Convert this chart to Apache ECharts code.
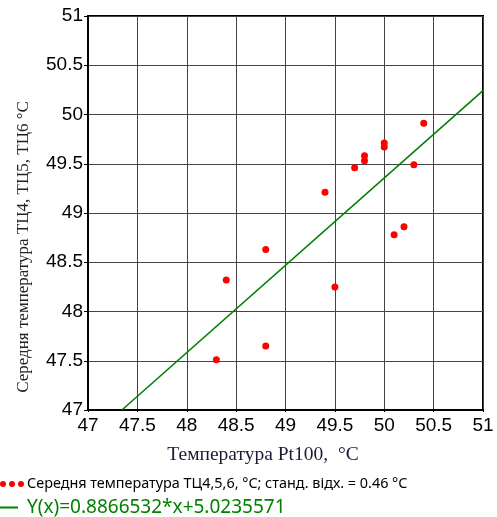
<!DOCTYPE html>
<html>
<head>
<meta charset="utf-8">
<script src="https://cdn.jsdelivr.net/npm/echarts@6/dist/echarts.min.js"></script>
<style>
  html, body { margin: 0; padding: 0; background: #fff; }
  #chart { width: 497px; height: 517px; }
</style>
</head>
<body>
<div id="chart"></div>
<script>
// точки: температура Pt100 та середня температура ТЦ4,5,6
const ptTemp = [48.3, 48.4, 48.8, 48.8, 49.4, 49.5, 49.7, 49.8, 49.8, 50.0, 50.0, 50.1, 50.2, 50.3, 50.4]
const tcTemp = [47.51, 48.32, 48.63, 47.65, 49.21, 48.25, 49.46, 49.58, 49.53, 49.71, 49.67, 48.78, 48.86, 49.49, 49.91]
// кінці лінії регресії Y(x)=0.8866532*x+5.0235571
const fitX = [47.343, 51]
const fitY = [47, 50.242]
const axisTicks = [47, 47.5, 48, 48.5, 49, 49.5, 50, 50.5, 51]

const scatterName = 'Середня температура ТЦ4,5,6, °C; станд. відх. = 0.46 °C'
const fitName = 'Y(x)=0.8866532*x+5.0235571'

let myChart = echarts.init(document.getElementById('chart'))

const axisCommon = {
  type: 'value',
  min: axisTicks[0],
  max: axisTicks[axisTicks.length - 1],
  interval: 0.5,
  axisLine: { show: true, lineStyle: { color: '#000', width: 2 } },
  splitLine: { show: true, lineStyle: { color: '#444', width: 1 } },
  axisLabel: {
    color: '#000',
    fontSize: 19,
    fontFamily: 'Liberation Sans, Arial, sans-serif',
    showMinLabel: true,
    showMaxLabel: true
  }
}

const option = {
  animation: false,
  backgroundColor: '#fff',
  grid: { left: 88, right: 14, top: 16, bottom: 107, show: true, borderColor: '#000', borderWidth: 2 },
  xAxis: {
    ...axisCommon,
    axisTick: { show: true, length: 2, lineStyle: { color: '#000' } },
    axisLabel: { ...axisCommon.axisLabel, margin: 6 }
  },
  yAxis: {
    ...axisCommon,
    axisTick: { show: true, length: 4, lineStyle: { color: '#000' } },
    axisLabel: { ...axisCommon.axisLabel, margin: 5 }
  },
  legend: [
    {
      left: 0,
      top: 477,
      padding: 0,
      itemWidth: 24,
      itemHeight: 6,
      selectedMode: false,
      data: [{
        name: scatterName,
        icon: 'path://M0,3a3,3 0 1,0 6,0a3,3 0 1,0 -6,0M9,3a3,3 0 1,0 6,0a3,3 0 1,0 -6,0M18,3a3,3 0 1,0 6,0a3,3 0 1,0 -6,0',
        itemStyle: { color: '#f00', opacity: 1 }
      }],
      textStyle: { color: '#000', fontSize: 14.4, fontFamily: 'Noto Sans, sans-serif', padding: [0, 0, 0, -2] }
    },
    {
      left: 0,
      top: 498,
      padding: 0,
      itemWidth: 18,
      itemHeight: 2,
      selectedMode: false,
      data: [{
        name: fitName,
        icon: 'rect',
        itemStyle: { color: '#008000' }
      }],
      textStyle: { color: '#008000', fontSize: 19, fontFamily: 'Noto Sans, sans-serif', padding: [0, 0, 0, 4] }
    }
  ],
  graphic: [
    {
      type: 'text',
      x: 24,
      y: 247,
      rotation: Math.PI / 2,
      style: {
        text: 'Середня температура ТЦ4, ТЦ5, ТЦ6 °C',
        fill: '#222',
        font: '17px "Liberation Serif", "Times New Roman", serif',
        textAlign: 'center',
        textVerticalAlign: 'middle'
      }
    },
    {
      type: 'text',
      x: 263,
      y: 455,
      style: {
        text: 'Температура Pt100,  °C',
        fill: '#1a1a33',
        font: '19.5px "Liberation Serif", "Times New Roman", serif',
        textAlign: 'center',
        textVerticalAlign: 'middle'
      }
    }
  ],
  series: [
    {
      name: scatterName,
      type: 'scatter',
      symbolSize: 7,
      itemStyle: { color: '#f00', opacity: 1 },
      data: ptTemp.map((x, i) => [x, tcTemp[i]]),
      z: 4
    },
    {
      name: fitName,
      type: 'line',
      showSymbol: false,
      symbol: 'none',
      lineStyle: { color: '#008000', width: 1.6 },
      itemStyle: { color: '#008000' },
      data: fitX.map((x, i) => [x, fitY[i]]),
      z: 3
    }
  ]
}
myChart.setOption(option)
window.addEventListener('resize', () => myChart.resize())
</script>
</body>
</html>
